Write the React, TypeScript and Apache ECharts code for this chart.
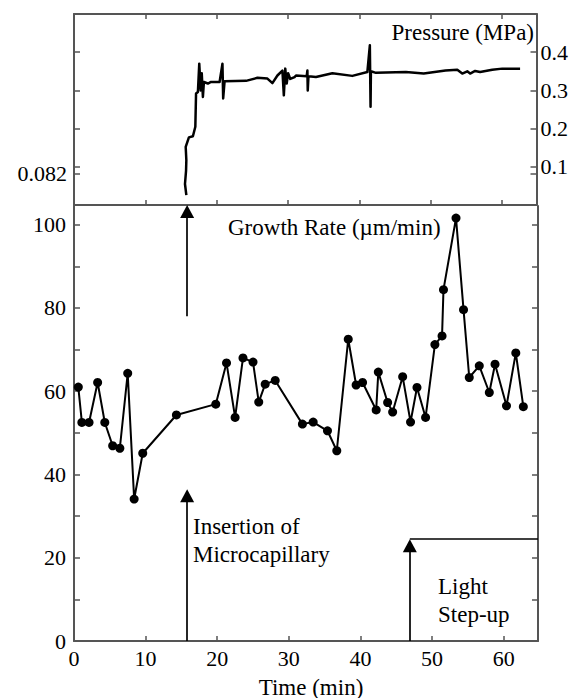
import React, { useEffect, useRef } from "react";
import * as echarts from "echarts";

// Growth rate (μm/min) vs time (min)
const growthTime = [0.6, 1.1, 2.1, 3.3, 4.3, 5.4, 6.4, 7.5, 8.4, 9.6, 14.3, 19.8, 21.3, 22.5, 23.6, 25.0, 25.8, 26.7, 28.1, 31.9, 33.4, 35.4, 36.7, 38.3, 39.4, 40.3, 42.2, 42.5, 43.8, 44.5, 45.9, 47.0, 47.9, 49.1, 50.4, 51.4, 51.6, 53.35, 54.4, 55.2, 56.6, 58.0, 58.8, 60.4, 61.7, 62.75];
const growthRate = [61, 52.5, 52.5, 62.1, 52.5, 46.9, 46.3, 64.3, 34.1, 45.1, 54.3, 56.9, 66.8, 53.7, 68, 67, 57.4, 61.7, 62.6, 52.1, 52.6, 50.5, 45.7, 72.5, 61.5, 62.1, 55.5, 64.6, 57.3, 55, 63.5, 52.6, 60.9, 53.7, 71.2, 73.3, 84.4, 101.6, 79.6, 63.3, 66.1, 59.7, 66.5, 56.5, 69.2, 56.3];

// Pressure (MPa) trace vs time (min)
const pressureTime = [15.74, 15.55, 15.7, 15.74, 15.65, 16.1, 16.66, 17.0, 17.1, 17.36, 17.55, 17.75, 17.9, 18.06, 18.2, 18.76, 19.2, 20.4, 20.8, 20.9, 21.1, 24.1, 25.7, 27.1, 27.8, 28.5, 29.2, 29.4, 29.6, 29.8, 30.0, 30.3, 30.9, 31.1, 32.6, 32.7, 32.75, 32.85, 33.9, 36.2, 39.0, 41.1, 41.45, 41.55, 41.6, 42.3, 46.5, 49.0, 52.05, 53.7, 54.4, 55.1, 55.5, 56.2, 56.9, 58.6, 60.0, 62.5];
const pressureValue = [0.026, 0.055, 0.09, 0.117, 0.152, 0.177, 0.18, 0.205, 0.292, 0.296, 0.37, 0.3, 0.345, 0.283, 0.322, 0.318, 0.322, 0.322, 0.37, 0.279, 0.324, 0.325, 0.333, 0.331, 0.319, 0.339, 0.352, 0.287, 0.357, 0.318, 0.345, 0.33, 0.335, 0.339, 0.337, 0.352, 0.3, 0.337, 0.335, 0.345, 0.338, 0.348, 0.418, 0.257, 0.35, 0.346, 0.348, 0.344, 0.352, 0.354, 0.344, 0.35, 0.344, 0.351, 0.348, 0.354, 0.357, 0.357];

// Tick values
const timeTicks = [10, 20, 30, 40, 50, 60];
const timeLabels = [0, 10, 20, 30, 40, 50, 60];
const rateTicks = [10, 20, 30, 40, 50, 60, 70, 80, 90, 100];
const rateLabels = [0, 20, 40, 60, 80, 100];
const pressureTicks = [0.082, 0.1, 0.2, 0.3, 0.4];
const pressureLabels = [0.1, 0.2, 0.3, 0.4];
const pressureLeftLabels = [0.082];

// Annotations
const insertionTime = 15.8;
const lightTime = 46.9;
const lightLevel = 24.45;

const FONT = "Liberation Serif";
const AXIS_COLOR = "#555";

export default function App() {
  const ref = useRef<HTMLDivElement>(null);
  useEffect(() => {
    document.body.style.margin = "0";
    if (!ref.current) return;
    const chart = echarts.init(ref.current, undefined, { renderer: "svg" });
    const axisLine = { show: true, onZero: false, lineStyle: { color: AXIS_COLOR, width: 2 } };
    const tickStyle = { lineStyle: { color: AXIS_COLOR, width: 1.5 } };
    const labelStyle = { color: "#000", fontFamily: FONT, fontSize: 22 };
    const xBase = { type: "value", min: 0, max: 64.8, splitLine: { show: false }, axisLine };
    const pressureData = pressureTime.map((t, i) => [t, pressureValue[i]]);
    const growthData = growthTime.map((t, i) => [t, growthRate[i]]);
    const textBase = { fontFamily: FONT, fontSize: 23, fill: "#000" };
    const option: any = {
      animation: false,
      backgroundColor: "#fff",
      textStyle: { fontFamily: FONT },
      grid: [
        { left: 74, right: 33, top: 14, height: 191 },
        { left: 74, right: 33, top: 206, bottom: 57 },
      ],
      xAxis: [
        { ...xBase, gridIndex: 0, position: "bottom", axisTick: { inside: true, length: 5, customValues: timeTicks, ...tickStyle }, axisLabel: { show: false } },
        { ...xBase, gridIndex: 0, position: "top", axisTick: { inside: true, length: 5, customValues: timeTicks, ...tickStyle }, axisLabel: { show: false } },
        { ...xBase, gridIndex: 1, position: "bottom", axisTick: { inside: true, length: 5, customValues: timeTicks, ...tickStyle }, axisLabel: { ...labelStyle, margin: 6, customValues: timeLabels } },
      ],
      yAxis: [
        { type: "value", gridIndex: 0, position: "left", min: 0, max: 0.5, splitLine: { show: false }, axisLine, axisTick: { inside: true, length: 6, customValues: pressureTicks, ...tickStyle }, axisLabel: { ...labelStyle, margin: 7, customValues: pressureLeftLabels, formatter: () => "0.082" } },
        { type: "value", gridIndex: 0, position: "right", min: 0, max: 0.5, splitLine: { show: false }, axisLine, axisTick: { inside: true, length: 6, customValues: pressureTicks, ...tickStyle }, axisLabel: { ...labelStyle, margin: 4, customValues: pressureLabels, formatter: (v: number) => v.toFixed(1) } },
        { type: "value", gridIndex: 1, position: "left", min: 0, max: 104.5, splitLine: { show: false }, axisLine, axisTick: { inside: true, length: 6, customValues: rateTicks, ...tickStyle }, axisLabel: { ...labelStyle, margin: 8, customValues: rateLabels } },
        { type: "value", gridIndex: 1, position: "right", min: 0, max: 104.5, splitLine: { show: false }, axisLine, axisTick: { inside: true, length: 6, customValues: rateTicks, ...tickStyle }, axisLabel: { show: false } },
      ],
      series: [
        {
          type: "line",
          xAxisIndex: 0,
          yAxisIndex: 0,
          data: pressureData,
          showSymbol: false,
          symbol: "none",
          lineStyle: { color: "#000", width: 2.5, join: "round" },
          silent: true,
        },
        {
          type: "line",
          xAxisIndex: 2,
          yAxisIndex: 2,
          data: growthData,
          symbol: "circle",
          symbolSize: 9,
          itemStyle: { color: "#000" },
          lineStyle: { color: "#000", width: 2 },
          silent: true,
          markLine: {
            silent: true,
            animation: false,
            label: { show: false },
            lineStyle: { color: "#000", width: 1.7, type: "solid" },
            symbol: ["none", "triangle"],
            symbolSize: [14, 13],
            data: [
              [{ coord: [insertionTime, 78] }, { coord: [insertionTime, 103.2] }],
              [{ coord: [insertionTime, 0] }, { coord: [insertionTime, 34.9] }],
              [{ coord: [lightTime, 0] }, { coord: [lightTime, lightLevel - 1.55] }],
              [
                { coord: [lightTime, lightLevel], symbol: "none" },
                { coord: [64.8, lightLevel], symbol: "none" },
              ],
            ],
          },
        },
      ],
      graphic: [
        { type: "text", x: 534, y: 32, style: { ...textBase, text: "Pressure (MPa)", align: "right", verticalAlign: "middle" } },
        { type: "text", x: 228, y: 227, style: { ...textBase, text: "Growth Rate (µm/min)", align: "left", verticalAlign: "middle" } },
        { type: "text", x: 193, y: 512, style: { ...textBase, text: "Insertion of\nMicrocapillary", lineHeight: 28, align: "left", verticalAlign: "top" } },
        { type: "text", x: 438, y: 572, style: { ...textBase, text: "Light\nStep-up", lineHeight: 28, align: "left", verticalAlign: "top" } },
        { type: "text", x: 311, y: 687, style: { ...textBase, text: "Time (min)", align: "center", verticalAlign: "middle" } },
      ],
    };
    chart.setOption(option);
    return () => chart.dispose();
  }, []);
  return <div ref={ref} style={{ width: 571, height: 698 }} />;
}
